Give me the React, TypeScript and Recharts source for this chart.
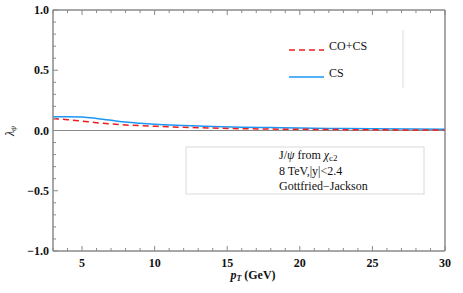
import React from "react";
import { LineChart, Line, XAxis, YAxis, ReferenceLine, ReferenceArea } from "recharts";

const pT = [3, 4, 5, 6, 7, 8, 9, 10, 12, 14, 16, 18, 20, 22, 25, 30];
const csValues = [0.115, 0.115, 0.112, 0.1, 0.085, 0.07, 0.06, 0.052, 0.042, 0.034, 0.028, 0.024, 0.02, 0.017, 0.014, 0.01];
const coCsValues = [0.098, 0.09, 0.078, 0.065, 0.054, 0.046, 0.04, 0.035, 0.026, 0.02, 0.015, 0.012, 0.01, 0.008, 0.006, 0.004];

const xMajor = [5, 10, 15, 20, 25, 30];
const xTicks = [3, 4, 5, 6, 7, 8, 9, 10, 11, 12, 13, 14, 15, 16, 17, 18, 19, 20, 21, 22, 23, 24, 25, 26, 27, 28, 29, 30];
const yMajor = [-1, -0.5, 0, 0.5, 1];
const yTicks = [-1, -0.9, -0.8, -0.7, -0.6, -0.5, -0.4, -0.3, -0.2, -0.1, 0, 0.1, 0.2, 0.3, 0.4, 0.5, 0.6, 0.7, 0.8, 0.9, 1];
const yLabels = ["\u22121.0", "\u22120.5", "0.0", "0.5", "1.0"];

const data = pT.map((p, i) => ({ pT: p, cs: csValues[i], cocs: coCsValues[i] }));

const FRAME = "#8a8a8a";
const TICK = "#8a8a8a";
const SERIF = "'Liberation Serif', 'Times New Roman', serif";

const isMajor = (v: number, majors: number[]) => majors.some((m) => Math.abs(m - v) < 1e-6);

const LeftTick = (props: any) => {
  const { x, y, payload } = props;
  const v = payload.value;
  const major = isMajor(v, yMajor);
  const idx = yMajor.findIndex((m) => Math.abs(m - v) < 1e-6);
  return (
    <g>
      <line x1={x} x2={x + (major ? 5 : 3)} y1={y} y2={y} stroke={TICK} strokeWidth={1} />
      {major && (
        <text x={x - 4} y={y} dy={4} textAnchor="end" fontFamily={SERIF} fontWeight="bold" fontSize={12} fill="#111">
          {yLabels[idx]}
        </text>
      )}
    </g>
  );
};

const RightTick = (props: any) => {
  const { x, y, payload } = props;
  const major = isMajor(payload.value, yMajor);
  return <line x1={x} x2={x - (major ? 5 : 3)} y1={y} y2={y} stroke={TICK} strokeWidth={1} />;
};

const BottomTick = (props: any) => {
  const { x, y, payload } = props;
  const v = payload.value;
  const major = isMajor(v, xMajor);
  return (
    <g>
      <line x1={x} x2={x} y1={y} y2={y - (major ? 5 : 3)} stroke={TICK} strokeWidth={1} />
      {major && (
        <text x={x} y={y + 16} textAnchor="middle" fontFamily={SERIF} fontWeight="bold" fontSize={12} fill="#111">
          {v}
        </text>
      )}
    </g>
  );
};

const TopTick = (props: any) => {
  const { x, y, payload } = props;
  const major = isMajor(payload.value, xMajor);
  return <line x1={x} x2={x} y1={y} y2={y + (major ? 5 : 3)} stroke={TICK} strokeWidth={1} />;
};

export default function App() {
  return (
    <div style={{ position: "absolute", left: 0, top: 0, width: 463, height: 293, background: "#fff" }}>
      <LineChart width={463} height={293} data={data} margin={{ top: 9, right: 17, bottom: 12, left: 13 }}>
        <XAxis
          xAxisId="b"
          dataKey="pT"
          type="number"
          domain={[3, 30]}
          ticks={xTicks}
          interval={0}
          tickSize={0}
          tickMargin={0}
          height={30}
          stroke={FRAME}
          tick={<BottomTick />}
          tickLine={false}
          allowDataOverflow
        />
        <XAxis
          xAxisId="t"
          orientation="top"
          dataKey="pT"
          type="number"
          domain={[3, 30]}
          ticks={xTicks}
          interval={0}
          tickSize={0}
          tickMargin={0}
          height={1}
          stroke={FRAME}
          tick={<TopTick />}
          tickLine={false}
        />
        <YAxis
          yAxisId="l"
          type="number"
          domain={[-1, 1]}
          ticks={yTicks}
          interval={0}
          tickSize={0}
          tickMargin={0}
          width={40}
          stroke={FRAME}
          tick={<LeftTick />}
          tickLine={false}
        />
        <YAxis
          yAxisId="r"
          orientation="right"
          type="number"
          domain={[-1, 1]}
          ticks={yTicks}
          interval={0}
          tickSize={0}
          tickMargin={0}
          width={1}
          stroke={FRAME}
          tick={<RightTick />}
          tickLine={false}
        />
        <ReferenceArea
          xAxisId="b"
          yAxisId="l"
          x1={3}
          x2={30}
          y1={-1}
          y2={1}
          fill="none"
          fillOpacity={0}
          stroke={FRAME}
          strokeWidth={1}
          ifOverflow="visible"
        />
        <ReferenceLine xAxisId="b" yAxisId="l" y={0} stroke={FRAME} strokeWidth={1} />
        <Line
          xAxisId="b"
          yAxisId="l"
          type="monotone"
          dataKey="cs"
          stroke="#1c96f2"
          strokeWidth={1.5}
          dot={false}
          isAnimationActive={false}
        />
        <Line
          xAxisId="b"
          yAxisId="l"
          type="monotone"
          dataKey="cocs"
          stroke="#ee1c1c"
          strokeWidth={1.5}
          strokeDasharray="6 4"
          dot={false}
          isAnimationActive={false}
        />
      </LineChart>
      <svg
        width={463}
        height={293}
        style={{ position: "absolute", left: 0, top: 0, pointerEvents: "none" }}
        fontFamily={SERIF}
      >
        <line x1={289} x2={324} y1={50} y2={50} stroke="#ee1c1c" strokeWidth={1.5} strokeDasharray="6 4" />
        <text x={329} y={50} fontSize={12} fill="#111">CO+CS</text>
        <line x1={289} x2={324} y1={77} y2={77} stroke="#1c96f2" strokeWidth={1.5} />
        <text x={329} y={77} fontSize={12} fill="#111">CS</text>
        <line x1={403} x2={403} y1={30} y2={88} stroke="#dcdcdc" strokeWidth={1} />
        <rect x={186} y={147} width={238} height={47} fill="#fff" stroke="#dadada" strokeWidth={1} />
        <text x={279} y={159} fontSize={12} fill="#111">
          J/<tspan fontStyle="italic">ψ</tspan> from <tspan fontStyle="italic">χ</tspan>
          <tspan fontSize={9} dy={2}>c2</tspan>
        </text>
        <text x={279} y={175} fontSize={12} fill="#111">8 TeV,|y|&lt;2.4</text>
        <text x={279} y={190} fontSize={12} fill="#111">Gottfried−Jackson</text>
        <text x={253} y={279} textAnchor="middle" fontSize={12} fontWeight="bold" fill="#111">
          <tspan fontStyle="italic">p</tspan>
          <tspan fontSize={8} dy={2} fontStyle="italic">T</tspan>
          <tspan dy={-2}> (GeV)</tspan>
        </text>
        <text x={0} y={0} transform="translate(14,131) rotate(-90)" textAnchor="middle" fontSize={12} fill="#111">
          <tspan fontStyle="italic">λ</tspan>
          <tspan fontSize={8} dy={2} fontStyle="italic">ψ</tspan>
        </text>
      </svg>
    </div>
  );
}
